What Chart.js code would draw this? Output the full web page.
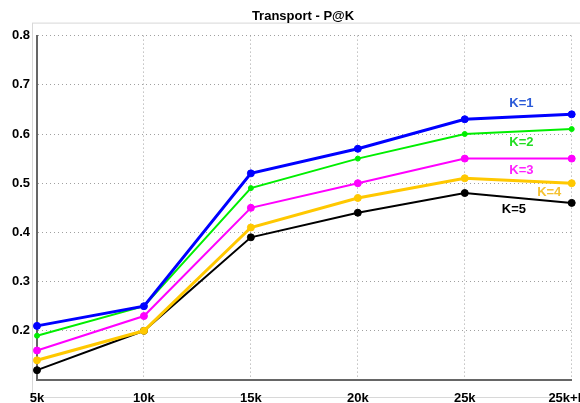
<!DOCTYPE html>
<html>
<head>
<meta charset="utf-8">
<script src="https://cdn.jsdelivr.net/npm/chart.js@4.4.1/dist/chart.umd.min.js"></script>
<style>
  html, body { margin: 0; padding: 0; background: #fff; overflow: hidden; }
  #wrap { position: relative; width: 606px; height: 403px; }
</style>
</head>
<body>
<div id="wrap"><canvas id="chart"></canvas></div>
<script>
// categories / values
const categories = ['5k', '10k', '15k', '20k', '25k', '25k+Kd'];
const k1 = [0.21, 0.25, 0.52, 0.57, 0.63, 0.64];
const k2 = [0.19, 0.25, 0.49, 0.55, 0.60, 0.61];
const k3 = [0.16, 0.23, 0.45, 0.50, 0.55, 0.55];
const k4 = [0.14, 0.20, 0.41, 0.47, 0.51, 0.50];
const k5 = [0.12, 0.20, 0.39, 0.44, 0.48, 0.46];
const seriesNames = ['K=1', 'K=2', 'K=3', 'K=4', 'K=5'];

// inline series labels, placed in scale units (x = category index, y = value)
const inlineLabels = [
    { text: 'K=1', x: 4.53, y: 0.662, color: '#2a5ad8' },
    { text: 'K=2', x: 4.53, y: 0.583, color: '#22dd22' },
    { text: 'K=3', x: 4.53, y: 0.526, color: '#ff22ff' },
    { text: 'K=4', x: 4.79, y: 0.481, color: '#f5c232' },
    { text: 'K=5', x: 4.46, y: 0.446, color: '#000000' }
];

const frame = {
    id: 'frame',
    beforeDraw(chart) {
        const { ctx, chartArea } = chart;
        ctx.save();
        ctx.strokeStyle = '#d8d8d8';
        ctx.lineWidth = 1;
        ctx.strokeRect(chartArea.left - 4.5, chartArea.top - 12.5, chartArea.right - chartArea.left + 40, chartArea.bottom - chartArea.top + 30);
        ctx.restore();
    }
};

const labelsPlugin = {
    id: 'inlineLabels',
    afterDatasetsDraw(chart) {
        const { ctx, scales } = chart;
        ctx.save();
        ctx.font = 'bold 13px "Liberation Sans", Arial, sans-serif';
        ctx.textAlign = 'center';
        ctx.textBaseline = 'middle';
        inlineLabels.forEach(l => {
            ctx.fillStyle = l.color;
            ctx.fillText(l.text, scales.x.getPixelForValue(l.x), scales.y.getPixelForValue(l.y));
        });
        ctx.restore();
    }
};

function ds(label, data, color, width, radius) {
    return {
        label: label,
        data: data,
        borderColor: color,
        backgroundColor: color,
        pointBackgroundColor: color,
        pointBorderColor: color,
        borderWidth: width,
        pointRadius: radius,
        pointBorderWidth: 1,
        pointHoverRadius: radius,
        tension: 0,
        fill: false
    };
}

const tickFont = { family: '"Liberation Sans", Arial, sans-serif', size: 13, weight: 'bold' };

new Chart(document.getElementById('chart'), {
    type: 'line',
    data: {
        labels: categories,
        datasets: [
            ds(seriesNames[0], k1, '#0000ff', 3, 3.5),
            ds(seriesNames[1], k2, '#00ee00', 2, 2.5),
            ds(seriesNames[2], k3, '#ff00ff', 2, 3.5),
            ds(seriesNames[3], k4, '#ffc800', 3, 3.5),
            ds(seriesNames[4], k5, '#000000', 2, 3.5)
        ]
    },
    options: {
        responsive: true,
        maintainAspectRatio: false,
        animation: false,
        plugins: {
            legend: { display: false },
            tooltip: { enabled: false },
            title: {
                display: true,
                text: 'Transport - P@K',
                color: '#000',
                font: { family: '"Liberation Sans", Arial, sans-serif', size: 13, weight: 'bold' },
                padding: { top: 9, bottom: 11 }
            }
        },
        scales: {
            x: {
                offset: false,
                grid: { color: '#a0a0a0', lineWidth: 1, drawTicks: false },
                border: { display: true, color: '#666', width: 2, dash: [1, 3] },
                ticks: { color: '#000', padding: 11, maxRotation: 0, font: tickFont },
                afterFit(scale) { scale.height = 23; }
            },
            y: {
                min: 0.1,
                max: 0.8,
                grid: { color: '#a0a0a0', lineWidth: 1, drawTicks: false },
                border: { display: true, color: '#666', width: 2, dash: [1, 3] },
                ticks: {
                    stepSize: 0.1,
                    color: '#000',
                    padding: 7,
                    font: tickFont,
                    callback: v => (v < 0.15 ? '' : v.toFixed(1))
                },
                afterFit(scale) { scale.width = 37; }
            }
        }
    },
    plugins: [frame, labelsPlugin]
});
</script>
</body>
</html>
